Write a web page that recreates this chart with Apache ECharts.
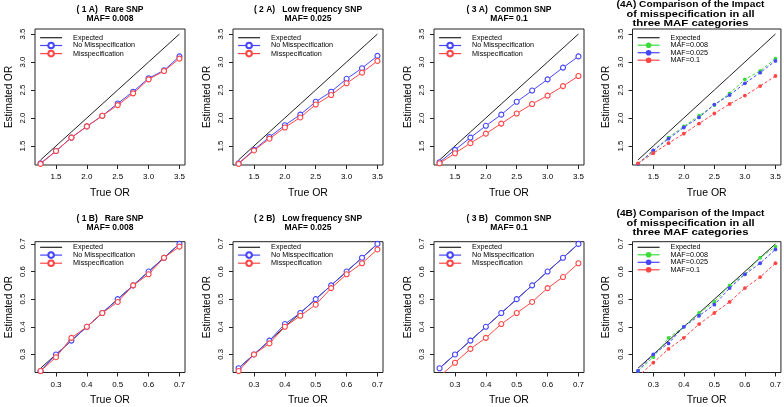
<!DOCTYPE html>
<html><head><meta charset="utf-8">
<script src="https://cdn.jsdelivr.net/npm/echarts@6/dist/echarts.min.js"></script>
<style>html,body{margin:0;padding:0;background:#fff}#c{width:784px;height:407px}</style>
</head><body><div id="c"></div>
<script>
// ---- data ----
const trueOR_A = [1.25, 1.5, 1.75, 2.0, 2.25, 2.5, 2.75, 3.0, 3.25, 3.5];
const trueOR_B = [0.25, 0.3, 0.35, 0.4, 0.45, 0.5, 0.55, 0.6, 0.65, 0.7];
const ticksA = [1.5, 2.0, 2.5, 3.0, 3.5];
const ticksB = [0.3, 0.4, 0.5, 0.6, 0.7];

const noMis1A = [1.19, 1.41, 1.65, 1.85, 2.04, 2.26, 2.47, 2.71, 2.85, 3.10];
const mis1A   = [1.18, 1.41, 1.65, 1.85, 2.04, 2.23, 2.44, 2.69, 2.84, 3.06];
const noMis2A = [1.19, 1.43, 1.66, 1.87, 2.06, 2.29, 2.47, 2.70, 2.89, 3.11];
const mis2A   = [1.18, 1.42, 1.63, 1.83, 2.01, 2.24, 2.41, 2.62, 2.81, 3.02];
const noMis3A = [1.21, 1.43, 1.65, 1.86, 2.06, 2.29, 2.49, 2.69, 2.90, 3.10];
const mis3A   = [1.19, 1.37, 1.55, 1.72, 1.90, 2.08, 2.25, 2.40, 2.57, 2.75];

const noMis1B = [0.24, 0.30, 0.35, 0.40, 0.45, 0.50, 0.55, 0.60, 0.65, 0.70];
const mis1B   = [0.24, 0.29, 0.36, 0.40, 0.45, 0.49, 0.55, 0.59, 0.65, 0.69];
const noMis2B = [0.25, 0.30, 0.35, 0.41, 0.45, 0.50, 0.55, 0.60, 0.65, 0.70];
const mis2B   = [0.24, 0.30, 0.34, 0.40, 0.44, 0.48, 0.54, 0.59, 0.63, 0.68];
const noMis3B = [0.25, 0.30, 0.35, 0.40, 0.45, 0.50, 0.55, 0.60, 0.65, 0.70];
const mis3B   = [0.22, 0.27, 0.32, 0.36, 0.41, 0.45, 0.49, 0.54, 0.58, 0.63];

const titlesA = [
  ['( 1 A)   Rare SNP', 'MAF= 0.008'],
  ['( 2 A)   Low frequency SNP', 'MAF= 0.025'],
  ['( 3 A)   Common SNP', 'MAF= 0.1'],
  ['(4A) Comparison of the Impact', 'of misspecification in all', 'three MAF categories']
];
const titlesB = [
  ['( 1 B)   Rare SNP', 'MAF= 0.008'],
  ['( 2 B)   Low frequency SNP', 'MAF= 0.025'],
  ['( 3 B)   Common SNP', 'MAF= 0.1'],
  ['(4B) Comparison of the Impact', 'of misspecification in all', 'three MAF categories']
];
const legendMain = ['Expected', 'No Misspecification', 'Misspecification'];
const legendComp = ['Expected', 'MAF=0.008', 'MAF=0.025', 'MAF=0.1'];

// ---- layout ----
const FONT = 'Liberation Sans, Arial, Helvetica, sans-serif';
const lefts = [35, 233, 434, 632.5];
const W = 150;
const rowA = { top: 29, height: 136, min: 1.16, max: 3.59, ymin: 1.16, ymax: 3.59, x: trueOR_A, ticks: ticksA, legendTop: 34.2, titleY: 9.5, titleY3: 4.9 };
const rowB = { top: 241.7, height: 132.6, min: 0.232, max: 0.718, ymin: 0.2346, ymax: 0.708, x: trueOR_B, ticks: ticksB, legendTop: 243.8, titleY: 218.3, titleY3: 213.8 };
const BLUE = '#4646ff', RED = '#ff4646', GREEN = '#3ddc3d', BLACK = '#222';
const compTitleCenter = 690.5;
const compTitleWidths = [148, 128, 116];

const zip = (xs, ys) => xs.map((x, i) => [x, ys[i]]);
const measureCtx = document.createElement('canvas').getContext('2d');
function textWidth(t, font) { measureCtx.font = font; return measureCtx.measureText(t).width; }

const grid = [], xAxis = [], yAxis = [], series = [], legend = [], graphic = [];
let gi = 0;
function addPanel(row, col, lines, title, isComp) {
  const idx = gi++;
  grid.push({ left: lefts[col], top: row.top, width: W, height: row.height, show: true,
    borderColor: BLACK, borderWidth: 1, backgroundColor: 'transparent', containLabel: false });
  const fmt = v => v.toFixed(1);
  xAxis.push({ type: 'value', gridIndex: idx, min: row.min, max: row.max,
    axisLine: { show: false }, splitLine: { show: false },
    axisTick: { show: true, inside: false, length: 4, customValues: row.ticks, lineStyle: { color: BLACK } },
    axisLabel: { customValues: row.ticks, formatter: fmt, margin: 8, color: '#000', fontSize: 8, fontFamily: FONT },
    name: 'True OR', nameLocation: 'middle', nameGap: 22.5,
    nameTextStyle: { fontSize: 10.5, color: '#000', fontFamily: FONT } });
  yAxis.push({ type: 'value', gridIndex: idx, min: row.ymin, max: row.ymax,
    axisLine: { show: false }, splitLine: { show: false },
    axisTick: { show: true, inside: false, length: 4, customValues: row.ticks, lineStyle: { color: BLACK } },
    axisLabel: { customValues: row.ticks, formatter: fmt, rotate: 90, margin: 8, color: '#000', fontSize: 7.8, fontFamily: FONT },
    name: 'Estimated OR', nameLocation: 'middle', nameGap: 21,
    nameTextStyle: { fontSize: 10, color: '#000', fontFamily: FONT } });
  const names = isComp ? legendComp : legendMain;
  const colors = isComp ? [BLACK, GREEN, BLUE, RED] : [BLACK, BLUE, RED];
  lines.forEach((ys, k) => {
    const s = { type: 'line', name: names[k], xAxisIndex: idx, yAxisIndex: idx,
      data: zip(row.x, ys), clip: true, animation: false, z: 2 + k,
      lineStyle: { color: colors[k], width: 1 }, itemStyle: { color: colors[k] } };
    if (k === 0) { s.symbol = 'none'; }
    else if (isComp) {
      s.symbol = 'circle'; s.symbolSize = 3.8; s.itemStyle = { color: colors[k], borderWidth: 0 };
      s.lineStyle = { color: colors[k], width: 1, type: [3, 2] };
    } else {
      s.symbol = 'circle'; s.symbolSize = 5;
      s.itemStyle = { color: '#fff', borderColor: colors[k], borderWidth: 1.1 };
    }
    series.push(s);
  });
  legend.push({ orient: 'vertical', left: lefts[col] + 4.5, top: row.legendTop, padding: 0,
    itemWidth: 22, itemHeight: 7, itemGap: 0.5, selectedMode: false,
    lineStyle: { width: 1.2 },
    data: names.map((n, k) => k === 0
      ? { name: n, itemStyle: { opacity: 0 } }
      : { name: n, lineStyle: { type: 'solid', width: 1.2 } }),
    formatter: n => '   ' + n,
    textStyle: { fontSize: 7.2, color: '#000', fontFamily: FONT } });
  const tfont = 'bold 8.5px ' + FONT;
  if (title.length === 3) {
    title.forEach((line, j) => {
      const sx = compTitleWidths[j] / textWidth(line, tfont);
      graphic.push({ type: 'text', x: compTitleCenter, y: row.titleY3 + j * 9.6, scaleX: sx,
        style: { text: line, fill: '#000', font: tfont, textAlign: 'center', textVerticalAlign: 'middle' } });
    });
  } else {
    const cx = lefts[col] + W / 2;
    title.forEach((line, j) => {
      graphic.push({ type: 'text', x: cx, y: row.titleY + j * 9.6,
        style: { text: line, fill: '#000', font: tfont, textAlign: 'center', textVerticalAlign: 'middle' } });
    });
  }
}

addPanel(rowA, 0, [trueOR_A, noMis1A, mis1A], titlesA[0], false);
addPanel(rowA, 1, [trueOR_A, noMis2A, mis2A], titlesA[1], false);
addPanel(rowA, 2, [trueOR_A, noMis3A, mis3A], titlesA[2], false);
addPanel(rowA, 3, [trueOR_A, mis1A, mis2A, mis3A], titlesA[3], true);
addPanel(rowB, 0, [trueOR_B, noMis1B, mis1B], titlesB[0], false);
addPanel(rowB, 1, [trueOR_B, noMis2B, mis2B], titlesB[1], false);
addPanel(rowB, 2, [trueOR_B, noMis3B, mis3B], titlesB[2], false);
addPanel(rowB, 3, [trueOR_B, mis1B, mis2B, mis3B], titlesB[3], true);

const chart = echarts.init(document.getElementById('c'), null, { renderer: 'canvas' });
chart.setOption({ animation: false, backgroundColor: '#fff', grid, xAxis, yAxis, series, legend, graphic });
</script></body></html>
